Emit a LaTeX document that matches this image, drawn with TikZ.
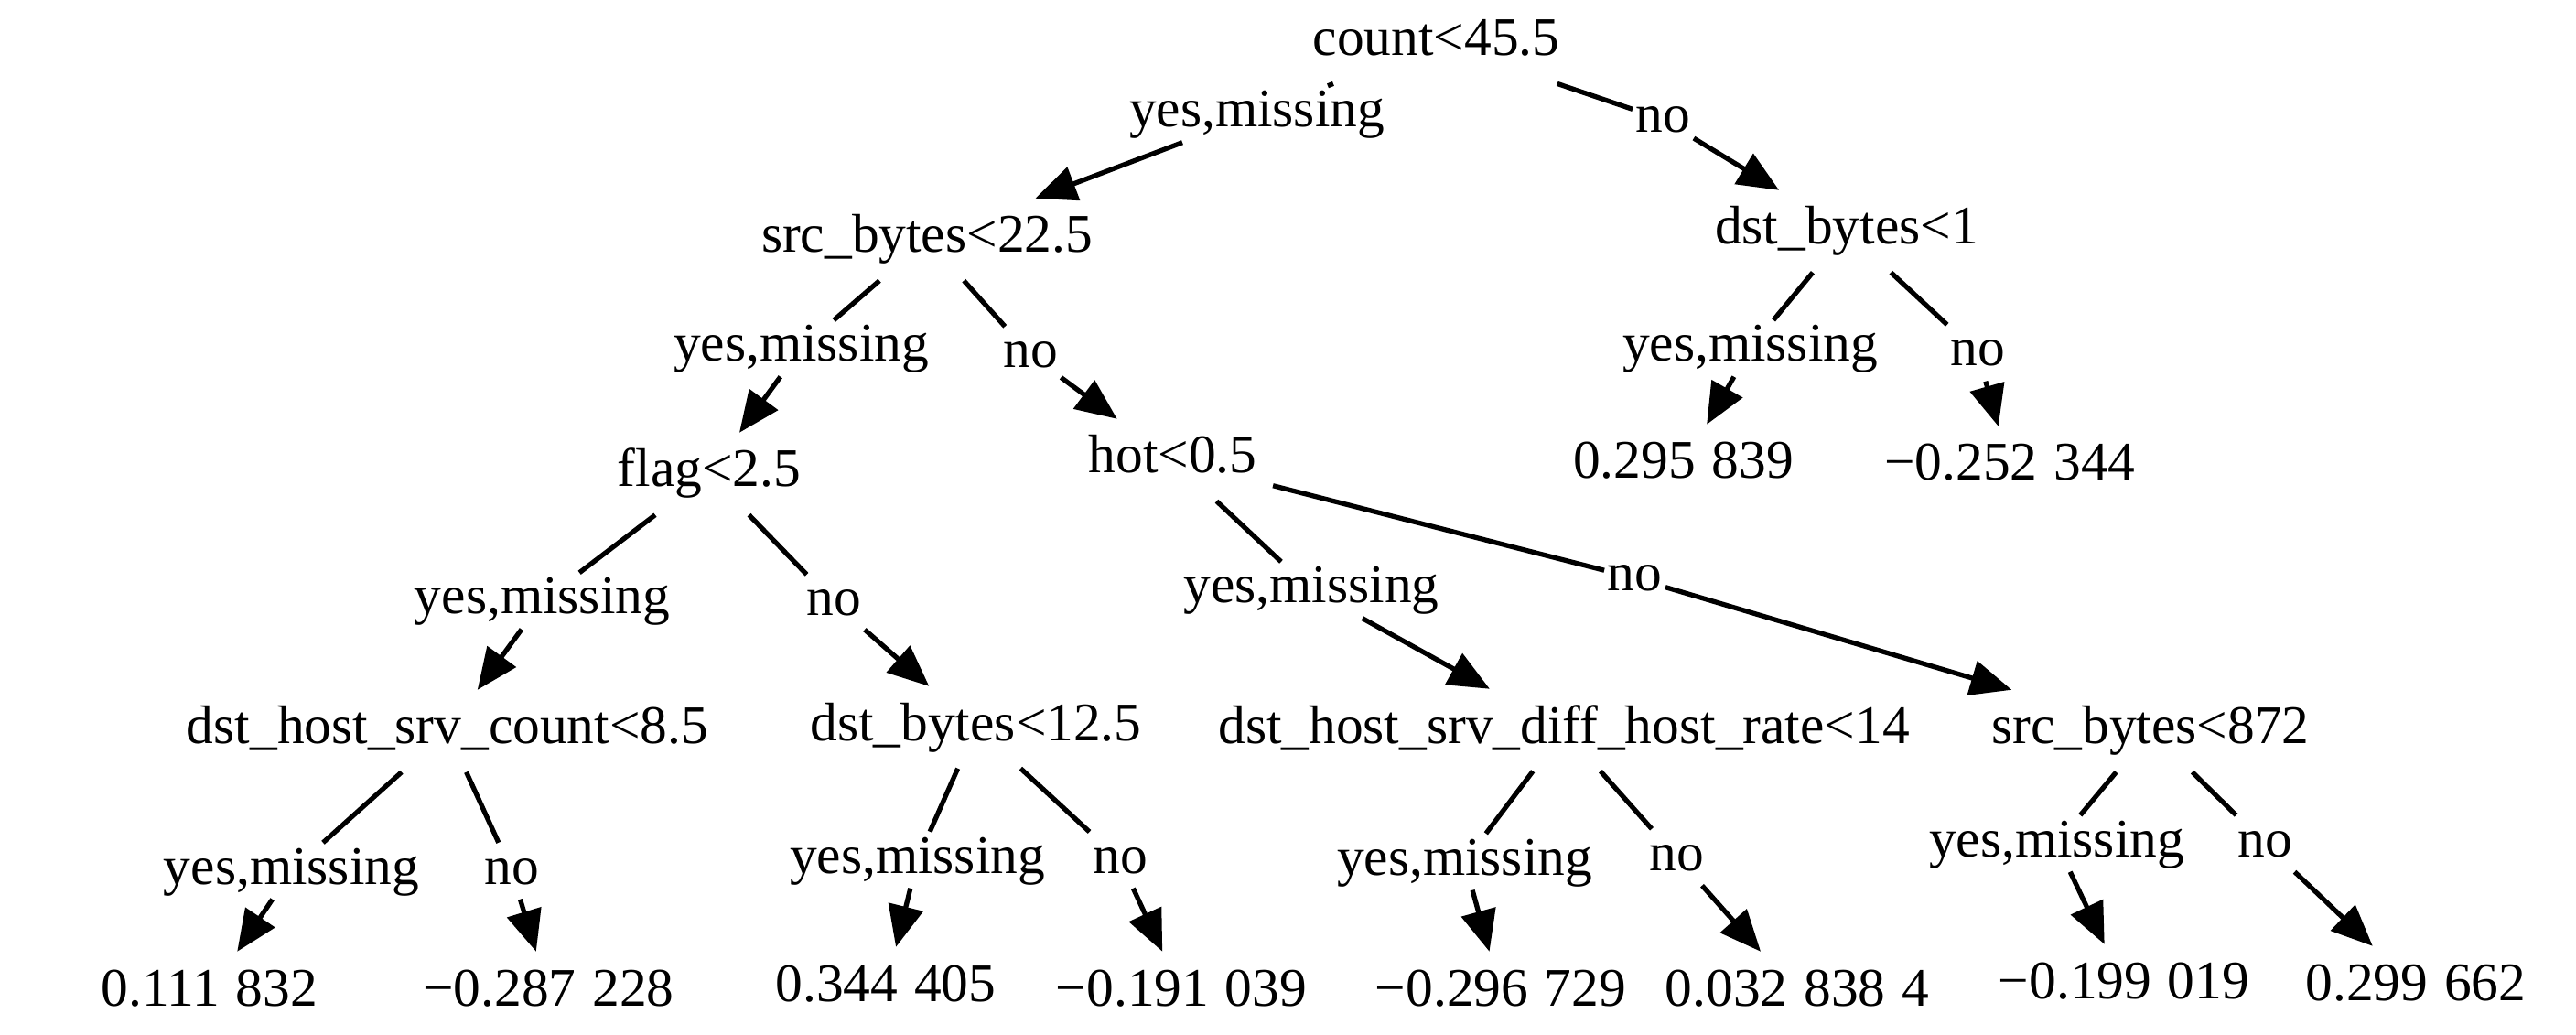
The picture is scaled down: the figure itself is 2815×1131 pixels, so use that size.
\documentclass[tikz,border=0pt]{standalone}
\usepackage{fontspec}
\setmainfont{Liberation Serif}
\usetikzlibrary{arrows.meta}
\tikzset{
  tnode/.style={font=\fontsize{16.9}{20}\selectfont, text height=11.8pt, text depth=3.7pt, anchor=base},
  split/.style={tnode, inner sep=0.17cm},
  lab/.style={tnode, inner sep=0.03cm},
  seg/.style={line width=1.5pt},
  arr/.style={line width=1.5pt, -{Triangle[length=0.45cm,width=0.38cm]}}
}
\newcommand{\gp}{\hspace{0.3em}}

\begin{document}
\begin{tikzpicture}[x=0.01cm,y=-0.01cm]
\useasboundingbox (0,0) rectangle (2815,1131);
% splits
\node[split] (cnt) at (1569.5,60.7) {count<45.5};
\node[split] (srcb) at (1013,276) {src\_bytes<22.5};
\node[split] (dstb) at (2018,267) {dst\_bytes<1};
\node[split] (flag) at (775,532) {flag<2.5};
\node[split] (hot) at (1281.5,517) {hot<0.5};
\node[split] (dhsc) at (489,813) {dst\_host\_srv\_count<8.5};
\node[split] (dstc) at (1066.5,809) {dst\_bytes<12.5};
\node[split] (dhsd) at (1709,812) {dst\_host\_srv\_diff\_host\_rate<14};
\node[split] (srcc) at (2350,813) {src\_bytes<872};
% leaves
\node[split] (v1) at (1839.5,523) {0.295\gp839};
\node[split] (v2) at (2196.5,525) {−0.252\gp344};
\node[split] (v3) at (229,1099) {0.111\gp832};
\node[split] (v4) at (599.5,1099) {−0.287\gp228};
\node[split] (v5) at (968,1094) {0.344\gp405};
\node[split] (v6) at (1291,1099) {−0.191\gp039};
\node[split] (v7) at (1640,1099) {−0.296\gp729};
\node[split] (v8) at (1964,1099) {0.032\gp838\gp4};
\node[split] (v9) at (2321,1091) {−0.199\gp019};
\node[split] (v10) at (2640,1093) {0.299\gp662};
% edge labels
\node[lab] (ycnt) at (1373.5,139) {yes,missing};
\node[lab] (ncnt) at (1817.5,145) {no};
\node[lab] (ysrcb) at (875.5,395) {yes,missing};
\node[lab] (nsrcb) at (1126,402) {no};
\node[lab] (ydstb) at (1912.5,395) {yes,missing};
\node[lab] (ndstb) at (2161,400) {no};
\node[lab] (yflag) at (592.5,671) {yes,missing};
\node[lab] (nflag) at (911.5,673) {no};
\node[lab] (yhot) at (1433,659) {yes,missing};
\node[lab] (nhot) at (1786.5,646) {no};
\node[lab] (ydhsc) at (318.5,966) {yes,missing};
\node[lab] (ndhsc) at (559,966) {no};
\node[lab] (ydstc) at (1002.5,954) {yes,missing};
\node[lab] (ndstc) at (1224,954) {no};
\node[lab] (ydhsd) at (1600.5,956) {yes,missing};
\node[lab] (ndhsd) at (1832.5,951) {no};
\node[lab] (ysrcc) at (2247.5,936) {yes,missing};
\node[lab] (nsrcc) at (2475,936) {no};
% edges
\draw[seg] (cnt)--(ycnt); \draw[arr] (ycnt)--(srcb);
\draw[seg] (cnt)--(ncnt); \draw[arr] (ncnt)--(dstb);
\draw[seg] (srcb)--(ysrcb); \draw[arr] (ysrcb)--(flag);
\draw[seg] (srcb)--(nsrcb); \draw[arr] (nsrcb)--(hot);
\draw[seg] (dstb)--(ydstb); \draw[arr] (ydstb)--(v1);
\draw[seg] (dstb)--(ndstb); \draw[arr] (ndstb)--(v2);
\draw[seg] (flag)--(yflag); \draw[arr] (yflag)--(dhsc);
\draw[seg] (flag)--(nflag); \draw[arr] (nflag)--(dstc);
\draw[seg] (hot)--(yhot); \draw[arr] (yhot)--(dhsd);
\draw[seg] (hot)--(nhot); \draw[arr] (nhot)--(srcc);
\draw[seg] (dhsc)--(ydhsc); \draw[arr] (ydhsc)--(v3);
\draw[seg] (dhsc)--(ndhsc); \draw[arr] (ndhsc)--(v4);
\draw[seg] (dstc)--(ydstc); \draw[arr] (ydstc)--(v5);
\draw[seg] (dstc)--(ndstc); \draw[arr] (ndstc)--(v6);
\draw[seg] (dhsd)--(ydhsd); \draw[arr] (ydhsd)--(v7);
\draw[seg] (dhsd)--(ndhsd); \draw[arr] (ndhsd)--(v8);
\draw[seg] (srcc)--(ysrcc); \draw[arr] (ysrcc)--(v9);
\draw[seg] (srcc)--(nsrcc); \draw[arr] (nsrcc)--(v10);
\end{tikzpicture}
\end{document}
